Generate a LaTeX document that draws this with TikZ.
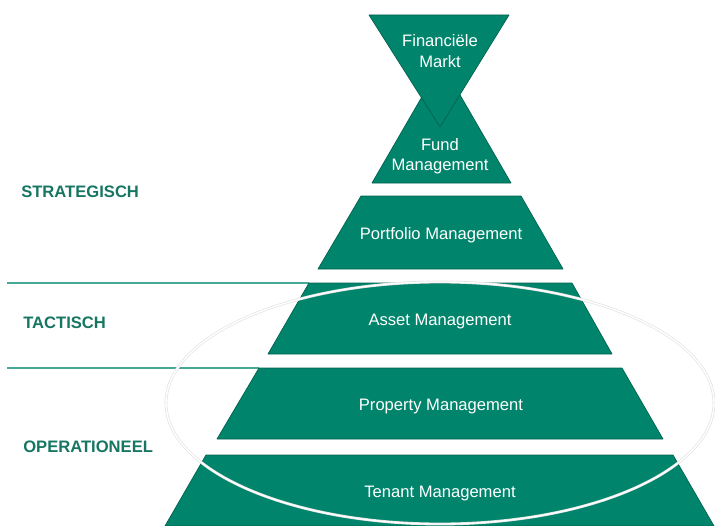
\documentclass[tikz,border=0pt]{standalone}
\usepackage{fontspec}
\setmainfont{Liberation Sans}

\definecolor{pyrgreen}{RGB}{0,133,108}
\definecolor{pyredge}{RGB}{0,98,78}
\definecolor{lvltext}{RGB}{22,118,98}
\definecolor{sepline}{RGB}{70,168,150}

\begin{document}
\begin{tikzpicture}[
    x=0.025cm, y=-0.025cm,
    every node/.style={font=\fontsize{11.8}{14.5}\selectfont, align=center},
    blok/.style={fill=pyrgreen, draw=pyredge, line width=0.5pt, line join=round},
    lbl/.style={text=white},
    niveau/.style={text=lvltext, font=\fontsize{11.8}{14.5}\selectfont\bfseries, anchor=west, inner sep=0pt},
    scheid/.style={draw=sepline, line width=1.1pt}
]
  \useasboundingbox (0,0) rectangle (715,525);

  % Hoekpunten van de lagen
  \coordinate (asset-nw) at (309,283);
  \coordinate (prop-nw) at (259,368);

  % Scheidingslijnen tussen de niveaus
  \draw[scheid] (7,283) -- (asset-nw);
  \draw[scheid] (7,368) -- (prop-nw);

  % Piramide, van boven naar beneden
  \draw[blok] (372,183) -- (441.5,63) -- (511,183) -- cycle;
  \draw[blok] (369,15) -- (509,15) -- (440,127) -- cycle;
  \draw[blok] (361,196) -- (521,196) -- (563,269) -- (318,269) -- cycle;
  \draw[blok] (asset-nw) -- (572,283) -- (612,354) -- (268,354) -- cycle;
  \draw[blok] (prop-nw) -- (622,368) -- (663,439) -- (217,439) -- cycle;
  \draw[blok] (206,455) -- (673,455) -- (714,526) -- (165,526) -- cycle;

  \node[lbl] (fin) at (440,51) {Financiële\\Markt};
  \node[lbl] (fund) at (440,156) {Fund\\Management};
  \node[lbl] (port) at (441,235) {Portfolio Management};
  \node[lbl] (asset) at (440,322) {Asset Management};
  \node[lbl] (prop) at (441,407) {Property Management};
  \node[lbl] (tenant) at (440,494) {Tenant Management};

  % Ellips rond tactisch en operationeel
  \draw[gray!22, line width=2pt] (440,403) ellipse [x radius=274, y radius=121];
  \draw[white, line width=1pt] (440,403) ellipse [x radius=274, y radius=121];

  % Niveaus links
  \node[niveau] (strat) at (21,192) {STRATEGISCH};
  \node[niveau] (tact) at (23,323) {TACTISCH};
  \node[niveau] (oper) at (23,447) {OPERATIONEEL};
\end{tikzpicture}
\end{document}
